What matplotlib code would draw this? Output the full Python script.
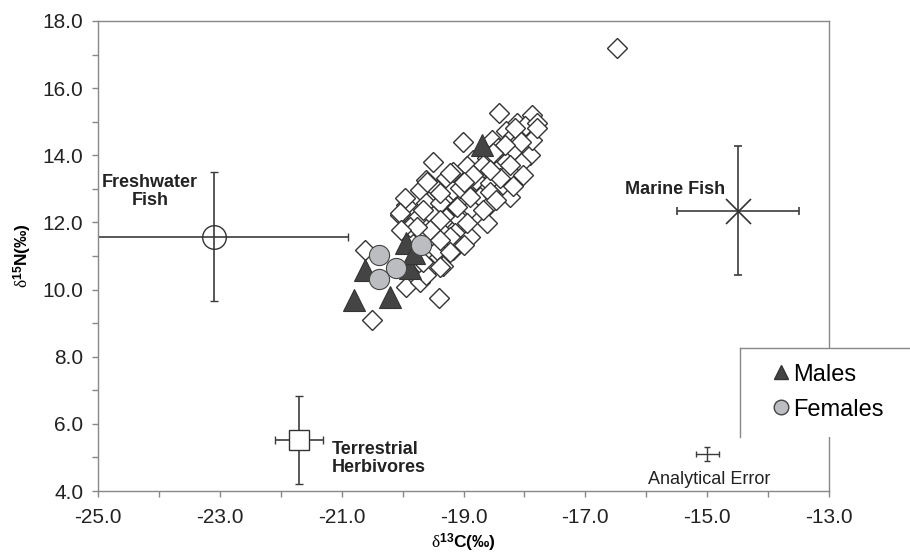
import matplotlib
matplotlib.use("Agg")
import matplotlib.pyplot as plt
from matplotlib.lines import Line2D
from matplotlib.patches import Rectangle
from matplotlib.ticker import MultipleLocator, FormatStrFormatter

plt.rcParams["font.family"] = ["Liberation Sans", "DejaVu Sans"]
plt.rcParams["mathtext.fontset"] = "custom"
plt.rcParams["mathtext.rm"] = "Liberation Serif"
plt.rcParams["mathtext.it"] = "Liberation Serif:italic"
plt.rcParams["mathtext.bf"] = "Liberation Sans:bold"

# individual samples (delta13C, delta15N)
sample_c = [
    -18.41, -17.88, -18.13, -17.99, -18.30, -17.80, -19.01, -18.54, -18.19, -18.08,
    -18.43, -18.21, -17.91, -19.50, -18.84, -18.62, -18.30, -18.95, -18.68, -18.46,
    -18.24, -18.05, -19.61, -19.28, -19.12, -18.79, -18.57, -18.35, -19.72, -19.44,
    -19.17, -18.95, -18.73, -18.51, -18.24, -19.94, -19.61, -19.39, -19.12, -18.87,
    -18.62, -20.05, -19.77, -19.50, -19.28, -19.06, -18.62, -19.99, -19.72, -19.39,
    -19.14, -18.90, -19.12, -19.39, -19.17, -19.66, -19.72, -19.55, -19.33, -19.94,
    -19.72, -20.62, -19.40, -20.50, -17.88, -18.16, -17.80, -18.05, -18.32, -18.52,
    -18.68, -18.24, -18.84, -18.40, -18.19, -18.02, -19.17, -18.57, -19.06, -18.57,
    -19.22, -19.60, -19.00, -19.96, -19.39, -18.89, -18.46, -19.66, -19.11, -18.68,
    -20.04, -19.39, -18.95, -19.88, -19.55, -19.22, -19.00, -19.44, -19.61, -19.39,
    -19.66, -19.22, -19.77, -19.39, -20.02, -16.48,
]
sample_n = [
    15.25, 15.21, 14.96, 14.86, 14.71, 14.96, 14.41, 14.46, 14.56, 14.46,
    14.21, 14.11, 14.01, 13.81, 13.86, 13.91, 13.81, 13.67, 13.62, 13.52,
    13.57, 13.77, 13.27, 13.32, 13.32, 13.27, 13.17, 13.07, 12.97, 12.97,
    12.97, 12.87, 12.77, 12.82, 12.77, 12.52, 12.57, 12.57, 12.47, 12.42,
    12.47, 12.23, 12.13, 12.18, 12.13, 12.08, 11.98, 11.78, 11.73, 11.78,
    11.68, 11.58, 11.38, 11.28, 11.18, 11.08, 10.79, 10.64, 10.69, 10.09,
    10.24, 11.18, 9.74, 9.10, 14.45, 14.81, 14.80, 14.40, 14.31, 14.07,
    13.70, 13.70, 13.40, 13.32, 13.10, 13.40, 13.50, 12.90, 13.03, 13.56,
    13.46, 13.21, 13.21, 12.72, 12.87, 12.77, 12.67, 12.37, 12.47, 12.37,
    12.27, 12.07, 11.97, 11.87, 11.77, 11.58, 11.33, 11.18, 10.43, 10.68,
    10.83, 11.13, 11.87, 11.48, 11.77, 17.20,
]

males_c = [-20.80, -20.20, -20.62, -19.88, -19.95, -19.82, -18.70]
males_n = [9.69, 9.79, 10.58, 10.63, 11.40, 11.10, 14.31]

females_c = [-20.39, -20.10, -20.39, -19.70]
females_n = [11.03, 10.63, 10.31, 11.33]

# reference food sources: mean and spread
fw_c, fw_n, fw_sc, fw_sn = -23.10, 11.57, 2.2, 1.92
mf_c, mf_n, mf_sc, mf_sn = -14.49, 12.35, 1.0, 1.92
th_c, th_n, th_sc, th_sn = -21.70, 5.52, 0.40, 1.32
ae_c, ae_n, ae_sc, ae_sn = -15.0, 5.1, 0.19, 0.21

fig = plt.figure(figsize=(9.1, 5.6), dpi=100)
ax = fig.add_axes([0.1077, 0.1232, 0.8033, 0.8393])

bar_col = "#3c3c3c"
ebkw = dict(ecolor=bar_col, elinewidth=1.2, capsize=3, capthick=1.2, zorder=2)

ax.errorbar(fw_c, fw_n, xerr=fw_sc, yerr=fw_sn, fmt="o", ms=17,
            mfc="none", mec="#333333", mew=1.0, **ebkw)
ax.errorbar(mf_c, mf_n, xerr=mf_sc, yerr=mf_sn, fmt="x", ms=18,
            mec="#333333", mew=1.2, **ebkw)
ax.errorbar(th_c, th_n, xerr=th_sc, yerr=th_sn, fmt="s", ms=14,
            mfc="white", mec="#333333", mew=1.0, **ebkw)
ax.errorbar(ae_c, ae_n, xerr=ae_sc, yerr=ae_sn, fmt="none",
            ecolor=bar_col, elinewidth=1.0, capsize=2.5, capthick=1.0)

ax.plot(sample_c, sample_n, "D", ms=10.5, mfc="white", mec="#333333",
        mew=1.0, ls="none", zorder=3)
ax.plot(males_c, males_n, "^", ms=15.5, mfc="#444444", mec="#333333",
        mew=0.8, ls="none", zorder=4)
ax.plot(females_c, females_n, "o", ms=14.5, mfc="#bcbdc1", mec="#444444",
        mew=0.8, ls="none", zorder=5)

bold = dict(fontsize=13, fontweight="bold", color="#222222")
ax.text(-24.15, 12.92, "Freshwater\nFish", ha="center", va="center",
        linespacing=1.05, **bold)
ax.text(-14.71, 12.97, "Marine Fish", ha="right", va="center", **bold)
ax.text(-21.16, 4.97, "Terrestrial\nHerbivores", ha="left", va="center",
        linespacing=1.05, **bold)
ax.text(-14.97, 4.33, "Analytical Error", ha="center", va="center",
        fontsize=13, color="#222222")

ax.set_xlim(-25, -13)
ax.set_ylim(4, 18)
ax.xaxis.set_major_locator(MultipleLocator(2, offset=1))
ax.xaxis.set_minor_locator(MultipleLocator(1))
ax.yaxis.set_major_locator(MultipleLocator(2))
ax.yaxis.set_minor_locator(MultipleLocator(1))
ax.xaxis.set_major_formatter(FormatStrFormatter("%.1f"))
ax.yaxis.set_major_formatter(FormatStrFormatter("%.1f"))
ax.tick_params(which="both", direction="out", length=4.5, width=1.0,
               color="#888888", labelsize=15, labelcolor="#222222")
ax.tick_params(axis="x", which="major", pad=8)
ax.tick_params(axis="y", which="major", pad=6)
for s in ax.spines.values():
    s.set_color("#888888")
    s.set_linewidth(1.0)

ax.set_xlabel(r"$\mathrm{\delta}^{\mathbf{13}}$C(‰)", fontsize=12.5,
              fontweight="bold", labelpad=3)
ax.set_ylabel(r"$\mathrm{\delta}^{\mathbf{15}}$N(‰)", fontsize=12.5,
              fontweight="bold", labelpad=6)

# legend box sticking out past the right edge
fig.patches.append(Rectangle((0.8132, 0.2196), 0.19, 0.159, transform=fig.transFigure,
                             facecolor="white", edgecolor="none", zorder=5))
fig.lines.append(Line2D([0.8132, 1.0], [0.3786, 0.3786], transform=fig.transFigure,
                        color="#888888", lw=1.0, zorder=6))
fig.lines.append(Line2D([0.8132, 0.8132], [0.2196, 0.3786], transform=fig.transFigure,
                        color="#888888", lw=1.0, zorder=6))
handles = [
    Line2D([], [], marker="^", ls="none", ms=10.5, mfc="#444444", mec="#333333"),
    Line2D([], [], marker="o", ls="none", ms=10.5, mfc="#bcbdc1", mec="#444444"),
]
leg = fig.legend(handles, ["Males", "Females"], loc="center left",
                 bbox_to_anchor=(0.851, 0.2996), frameon=False, fontsize=17,
                 handlelength=0.6, handletextpad=0.2, labelspacing=0.55,
                 borderpad=0, borderaxespad=0)
leg.set_zorder(7)

fig.savefig("out.png", dpi=100)
